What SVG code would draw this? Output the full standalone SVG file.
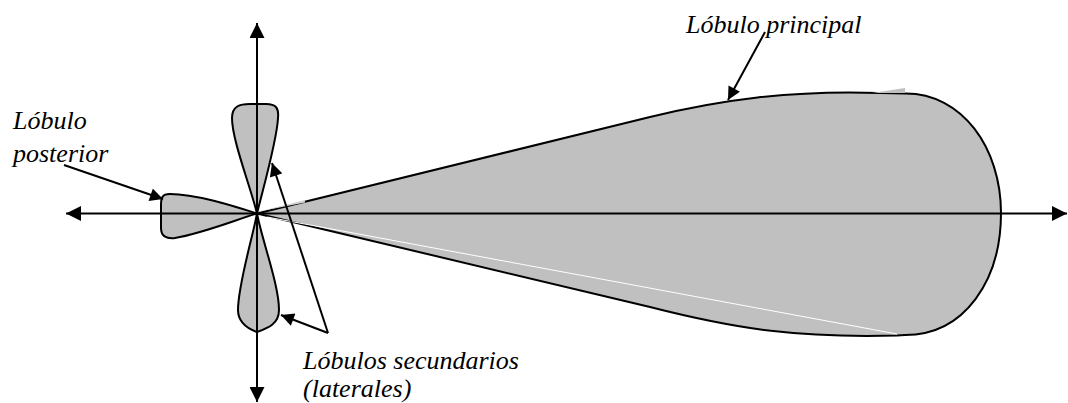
<svg xmlns="http://www.w3.org/2000/svg" width="1068" height="403" viewBox="0 0 1068 403">
<style>
.lobe{fill:#c0c0c0;stroke:#000;stroke-width:2;stroke-linejoin:round}
.ax{stroke:#000;stroke-width:2;fill:none}
.ptr{stroke:#000;stroke-width:2;fill:none;stroke-linejoin:miter}
.lbl{font-family:"Liberation Serif","Times New Roman",serif;font-style:italic;font-size:26px;fill:#000}
</style>
<defs>
<marker id="ah" viewBox="0 0 10 10" refX="10" refY="5" markerUnits="userSpaceOnUse" markerWidth="15" markerHeight="15" orient="auto-start-reverse">
<path d="M0,0 L10,5 L0,10 Z" fill="#000"/>
</marker>
<marker id="ph" viewBox="0 0 10 10" refX="10" refY="5" markerUnits="userSpaceOnUse" markerWidth="15" markerHeight="13" orient="auto">
<path d="M0,0 L10,5 L0,10 Z" fill="#000"/>
</marker>
</defs>
<rect width="1068" height="403" fill="#fff"/>
<g id="main-lobe">
<path class="lobe" d="M257,213.5 L650,117 C720,100 790,90 880,93 L905,93.5 C962,93 1001,148 1001,213 C1001,280 965,335 905,335 L897,335.5 C800,338 740,330 650,307 Z"/>
<polygon points="872,93 905,88 905,93" fill="#c0c0c0"/>
<polygon points="259,211.5 305,200 305,202.5" fill="#d4d4d4"/>
<line x1="267" y1="217" x2="897" y2="334" stroke="#fff" stroke-width="1"/>
</g>
<g id="upper-lobe">
<path class="lobe" d="M257,213.5 C250,185 232,140 232,118 C232,106 240,104 250,104 L266,104 C276,104 279,108 278,118 C277,140 264,185 257,213.5 Z"/>
</g>
<g id="lower-lobe">
<path class="lobe" d="M257,213.5 C252,240 238,285 238,310 C238,322 246,328 257,332 C268,328 279,324 279,310 C279,285 262,240 257,213.5 Z"/>
</g>
<g id="back-lobe">
<path class="lobe" d="M257,213.5 C230,205 195,194 170,194 C162,194 161,198 161,205 L161,228 C161,236 166,239 175,238 C200,234 230,222 257,213.5 Z"/>
</g>
<g id="connectors">
<line class="ax" x1="66" y1="213.5" x2="1067" y2="213.5" marker-start="url(#ah)" marker-end="url(#ah)"/>
<line class="ax" x1="257" y1="23" x2="257" y2="402" marker-start="url(#ah)" marker-end="url(#ah)"/>
<line class="ptr" x1="765" y1="32" x2="728" y2="100" marker-end="url(#ph)"/>
<line class="ptr" x1="64" y1="165" x2="163" y2="199" marker-end="url(#ph)"/>
<line class="ptr" x1="328" y1="333" x2="272" y2="163" marker-end="url(#ph)"/>
<line class="ptr" x1="328" y1="333" x2="281" y2="315" marker-end="url(#ph)"/>
</g>
<g id="labels">
<text class="lbl" x="686" y="33">Lóbulo principal</text>
<text class="lbl" x="13" y="129">Lóbulo</text>
<text class="lbl" x="13" y="161.5">posterior</text>
<text class="lbl" x="303" y="369">Lóbulos secundarios</text>
<text class="lbl" x="303" y="397">(laterales)</text>
</g>
</svg>
